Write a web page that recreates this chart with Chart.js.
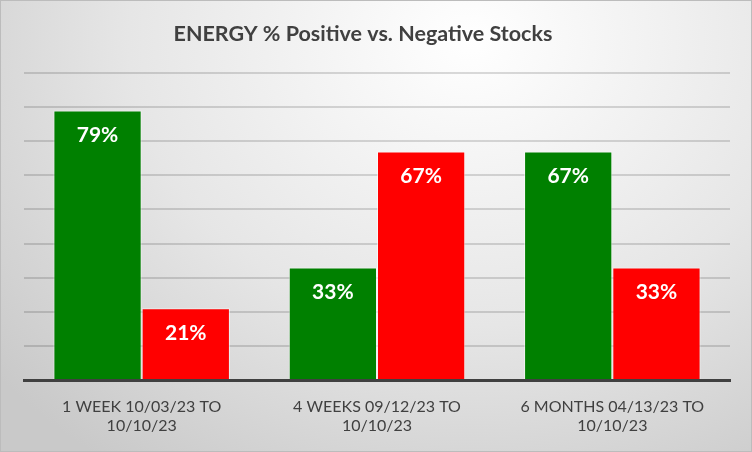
<!DOCTYPE html>
<html>
<head>
<meta charset="utf-8">
<script src="https://cdn.jsdelivr.net/npm/chart.js@4"></script>
<style>
  html, body { margin: 0; padding: 0; }
  body {
    width: 752px; height: 452px; overflow: hidden;
    background: radial-gradient(ellipse 620px 520px at 470px 40px, #ffffff 0%, #e6e6e6 55%, #c9c9c9 100%);
  }
  #wrap { position: relative; width: 750px; height: 450px; border: 1px solid #bcbcbc; }
</style>
</head>
<body>
<div id="wrap"><canvas id="chart" width="750" height="450"></canvas></div>
<script>
// chart data
const categories = [
    ['1 WEEK 10/03/23 TO', '10/10/23'],
    ['4 WEEKS 09/12/23 TO', '10/10/23'],
    ['6 MONTHS 04/13/23 TO', '10/10/23']
];
const positiveValues = [79, 33, 67];
const negativeValues = [21, 67, 33];
const seriesNames = ['Positive', 'Negative'];
const titleText = 'ENERGY % Positive vs. Negative Stocks';

const FONT = 'Lato, "Open Sans", sans-serif';

// draws the % labels inside the top of each bar, and the title (sits a bit left of centre)
const barLabels = {
    id: 'barLabels',
    afterDatasetsDraw(chart) {
        const ctx = chart.ctx;
        ctx.save();
        ctx.textAlign = 'center';
        ctx.textBaseline = 'middle';
        ctx.fillStyle = '#404040';
        ctx.font = 'bold 21.5px ' + FONT;
        ctx.fillText(titleText, 362, 33);
        ctx.fillStyle = '#ffffff';
        ctx.font = 'bold 21px ' + FONT;
        chart.data.datasets.forEach((ds, i) => {
            chart.getDatasetMeta(i).data.forEach((bar, j) => {
                ctx.fillText(ds.data[j] + '%', bar.x, bar.y + 25);
            });
        });
        ctx.restore();
    }
};

new Chart(document.getElementById('chart'), {
    type: 'bar',
    data: {
        labels: categories,
        datasets: [{
            label: seriesNames[0],
            data: positiveValues,
            backgroundColor: '#008000',
            borderColor: 'rgba(255,255,255,0.55)',
            borderWidth: 1
        }, {
            label: seriesNames[1],
            data: negativeValues,
            backgroundColor: '#ff0000',
            borderColor: 'rgba(255,255,255,0.55)',
            borderWidth: 1
        }]
    },
    options: {
        responsive: false,
        animation: false,
        layout: { padding: { left: 23, right: 21, top: 72, bottom: 0 } },
        datasets: { bar: { barPercentage: 1, categoryPercentage: 0.75 } },
        plugins: {
            legend: { display: false },
            tooltip: { enabled: false },
            title: { display: false }
        },
        scales: {
            x: {
                grid: { display: false },
                border: { color: '#404040', width: 3 },
                ticks: {
                    color: '#404040',
                    font: { family: FONT, size: 16 },
                    padding: 9,
                    maxRotation: 0
                },
                afterFit(scale) { scale.height = 71; }
            },
            y: {
                min: 0,
                max: 90,
                ticks: { display: false, stepSize: 10 },
                border: { display: false },
                grid: { color: 'rgba(0,0,0,0.14)', lineWidth: 2, drawTicks: false },
                afterFit(scale) { scale.width = 0; }
            }
        }
    },
    plugins: [barLabels]
});
</script>
</body>
</html>
